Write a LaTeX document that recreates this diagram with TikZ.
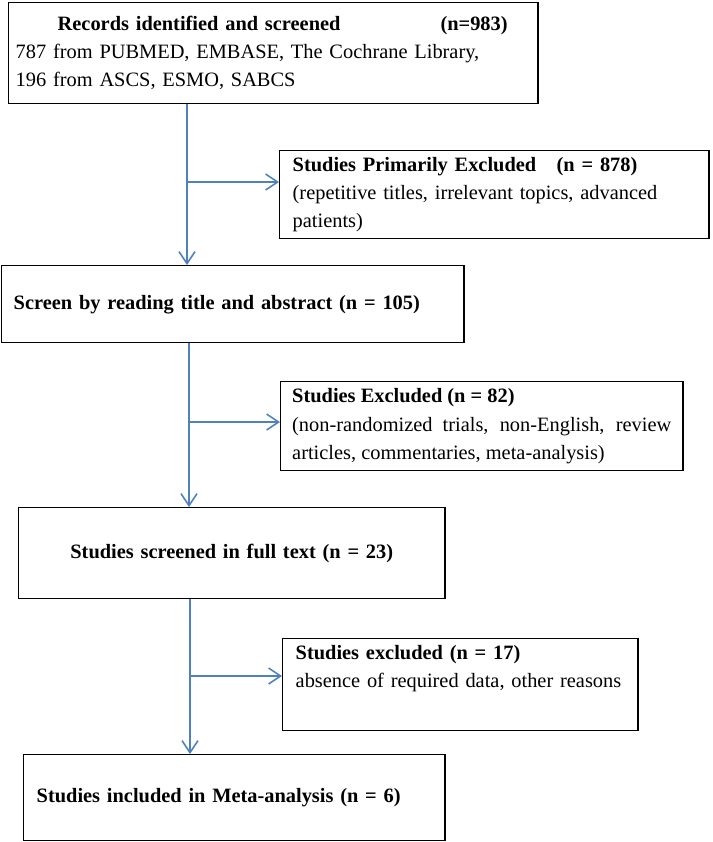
\documentclass[tikz,border=0pt]{standalone}
\usepackage{fontspec}
\setmainfont{Liberation Serif}
\usetikzlibrary{arrows.meta}
\definecolor{flowblue}{RGB}{79,129,189}

\begin{document}
\begin{tikzpicture}[x=0.025cm, y=-0.025cm,
	box/.style={draw=black, line width=1pt, anchor=north west, inner ysep=0pt,
	            font=\fontsize{14.5}{20}\selectfont},
	flow/.style={draw=flowblue, line width=1.1pt, -{Straight Barb[length=3mm, width=4mm]}}]
	\useasboundingbox (0,0) rectangle (712,842);

	% main column
	\node[box, minimum width=13.225cm, minimum height=2.525cm, inner xsep=0.175cm,
	      text width=12.875cm, align=left] (rec) at (8,2)
	      {\hspace*{1.05cm}\textbf{Records identified and screened}\hspace{2.5cm}\textbf{(n=983)}\\
	       787 from PUBMED, EMBASE, The Cochrane Library,\\
	       196 from ASCS, ESMO, SABCS};
	\node[box, minimum width=11.55cm, minimum height=1.925cm, inner xsep=0.3cm,
	      text width=10.95cm, align=left] (screen) at (1,265)
	      {\textbf{Screen by reading title and abstract (n = 105)}};
	\node[box, minimum width=10.65cm, minimum height=2.275cm, inner xsep=0.325cm,
	      text width=10cm, align=center] (full) at (18,507)
	      {\textbf{Studies screened in full text (n = 23)}};
	\node[box, minimum width=10.525cm, minimum height=2.15cm, inner xsep=0.325cm,
	      text width=9.875cm, align=left] (incl) at (23,754)
	      {\textbf{Studies included in Meta-analysis (n = 6)}};

	% exclusions
	\node[box, minimum width=10.725cm, minimum height=2.2cm, inner xsep=0.325cm,
	      text width=10.075cm, align=left] (prim) at (279,150)
	      {\textbf{Studies Primarily Excluded}\hspace{1em}\textbf{(n = 878)}\\
	       (repetitive titles, irrelevant topics, advanced\\
	       patients)};
	\node[box, minimum width=10.05cm, minimum height=2.225cm, inner xsep=0.2875cm,
	      text width=9.475cm, align=justify] (excl) at (280,381)
	      {\textbf{Studies Excluded (n = 82)}\\
	       (non-randomized trials, non-English, review\linebreak
	       articles, commentaries, meta-analysis)};
	\node[box, minimum width=8.875cm, minimum height=2.3cm, inner xsep=0.325cm,
	      text width=8.225cm, align=left] (drop) at (282,638)
	      {\textbf{Studies excluded (n = 17)}\\
	       absence of required data, other reasons\\
	       \strut};

	% connectors
	\coordinate (c1) at (187,0);
	\coordinate (b1) at (187,182);
	\coordinate (c2) at (189,0);
	\coordinate (b2) at (189,422);
	\coordinate (c3) at (190,0);
	\coordinate (b3) at (190,676);
	\draw[flow] (rec.south -| c1) -- (screen.north -| c1);
	\draw[flow] (b1) -- (b1 -| prim.west);
	\draw[flow] (screen.south -| c2) -- (full.north -| c2);
	\draw[flow] (b2) -- (b2 -| excl.west);
	\draw[flow] (full.south -| c3) -- (incl.north -| c3);
	\draw[flow] (b3) -- (b3 -| drop.west);
\end{tikzpicture}
\end{document}
